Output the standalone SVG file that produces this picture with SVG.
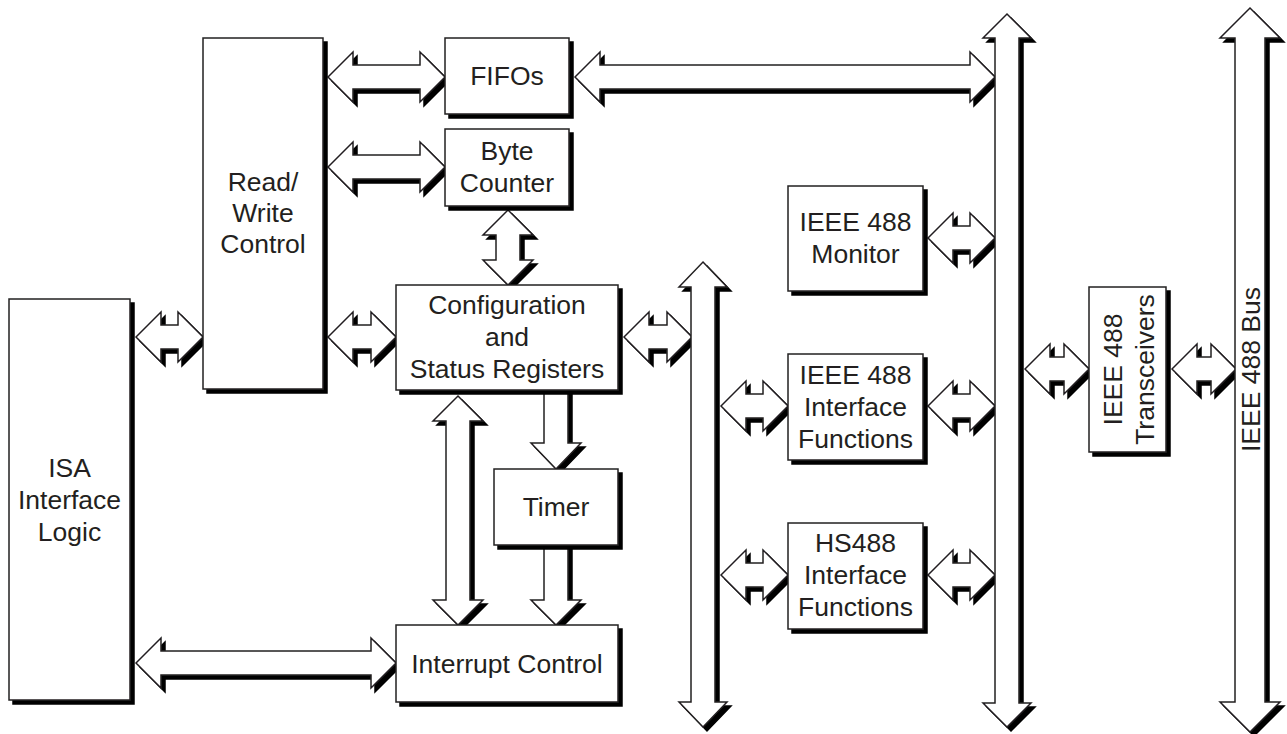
<svg xmlns="http://www.w3.org/2000/svg" width="1287" height="734" viewBox="0 0 1287 734">
<style>
.bx{fill:#fff;stroke:#231f20;stroke-width:1.5;filter:url(#sh)}
.ar{fill:#fff;stroke:#231f20;stroke-width:1.5;stroke-linejoin:miter;filter:url(#sh)}
.t{font-family:"Liberation Sans",Arial,Helvetica,sans-serif;font-size:26.5px;fill:#231f20;text-anchor:middle}
</style>
<defs>
<filter id="sh" x="-20%" y="-20%" width="140%" height="140%">
<feOffset in="SourceAlpha" dx="4" dy="4" result="o"/>
<feMerge><feMergeNode in="o"/><feMergeNode in="SourceGraphic"/></feMerge>
</filter>
</defs>
<rect width="1287" height="734" fill="#fff"/>
<g id="connectors">
<path class="ar" d="M328 77 L353 52 V65 H420 V52 L445 77 L420 102 V89 H353 V102 Z"/>
<path class="ar" d="M328 167 L353 142 V155 H420 V142 L445 167 L420 192 V179 H353 V192 Z"/>
<path class="ar" d="M575 77 L600 52 V65 H970 V52 L995 77 L970 102 V89 H600 V102 Z"/>
<path class="ar" d="M508 210 L533 235 H520 V260 H533 L508 285 L483 260 H496 V235 H483 Z"/>
<path class="ar" d="M136 337 L161 312 V325 H178 V312 L203 337 L178 362 V349 H161 V362 Z"/>
<path class="ar" d="M328 337 L353 312 V325 H371 V312 L396 337 L371 362 V349 H353 V362 Z"/>
<path class="ar" d="M624 337 L649 312 V325 H667 V312 L692 337 L667 362 V349 H649 V362 Z"/>
<path class="ar" d="M458 396 L483 421 H470 V600 H483 L458 625 L433 600 H446 V421 H433 Z"/>
<path class="ar" d="M544 388 H568 V443 H581 L556 469 L531 443 H544 Z"/>
<path class="ar" d="M544 545 H568 V600 H581 L556 625 L531 600 H544 Z"/>
<path class="ar" d="M136 663 L161 638 V651 H371 V638 L396 663 L371 688 V675 H161 V688 Z"/>
<path class="ar" d="M721 406 L746 381 V394 H763 V381 L788 406 L763 431 V418 H746 V431 Z"/>
<path class="ar" d="M721 575 L746 550 V563 H763 V550 L788 575 L763 600 V587 H746 V600 Z"/>
<path class="ar" d="M928 238 L953 213 V226 H970 V213 L995 238 L970 263 V250 H953 V263 Z"/>
<path class="ar" d="M928 406 L953 381 V394 H970 V381 L995 406 L970 431 V418 H953 V431 Z"/>
<path class="ar" d="M928 575 L953 550 V563 H970 V550 L995 575 L970 600 V587 H953 V600 Z"/>
<path class="ar" d="M1025 369 L1050 344 V357 H1064 V344 L1089 369 L1064 394 V381 H1050 V394 Z"/>
<path class="ar" d="M1172 369 L1197 344 V357 H1211 V344 L1236 369 L1211 394 V381 H1197 V394 Z"/>
</g>
<g id="nodes">
<g id="bus-internal"><path class="ar" d="M703 262 L727 287 H715 V702 H727 L703 727 L679 702 H691 V287 H679 Z"/></g>
<g id="bus-local"><path class="ar" d="M1007 14 L1031 38 H1019 V703 H1031 L1007 727 L983 703 H995 V38 H983 Z"/></g>
<g id="ieee488-bus"><path class="ar" d="M1250 8 L1280 38 H1265 V702 H1280 L1250 732 L1220 702 H1235 V38 H1220 Z"/>
<text class="t" transform="translate(1260 369.5) rotate(-90)">IEEE 488 Bus</text></g>
<g id="isa"><rect class="bx" x="9" y="299" width="121" height="401"/>
<text class="t" x="69.5" y="477">ISA</text><text class="t" x="69.5" y="509">Interface</text><text class="t" x="69.5" y="541">Logic</text></g>
<g id="rw"><rect class="bx" x="203" y="38" width="120" height="351"/>
<text class="t" x="263" y="191">Read/</text><text class="t" x="263" y="222">Write</text><text class="t" x="263" y="253">Control</text></g>
<g id="fifos"><rect class="bx" x="445" y="38" width="124" height="76"/>
<text class="t" x="507" y="85">FIFOs</text></g>
<g id="bytecounter"><rect class="bx" x="445" y="129" width="124" height="77"/>
<text class="t" x="507" y="160">Byte</text><text class="t" x="507" y="192">Counter</text></g>
<g id="config"><rect class="bx" x="396" y="285" width="222" height="105"/>
<text class="t" x="507" y="314">Configuration</text><text class="t" x="507" y="346">and</text><text class="t" x="507" y="378">Status Registers</text></g>
<g id="timer"><rect class="bx" x="494" y="469" width="124" height="76"/>
<text class="t" x="556" y="516">Timer</text></g>
<g id="interrupt"><rect class="bx" x="396" y="625" width="222" height="77"/>
<text class="t" x="507" y="673">Interrupt Control</text></g>
<g id="monitor"><rect class="bx" x="788" y="186" width="135" height="105"/>
<text class="t" x="855.5" y="231">IEEE 488</text><text class="t" x="855.5" y="263">Monitor</text></g>
<g id="ieee-if"><rect class="bx" x="788" y="354" width="135" height="106"/>
<text class="t" x="855.5" y="384">IEEE 488</text><text class="t" x="855.5" y="416">Interface</text><text class="t" x="855.5" y="448">Functions</text></g>
<g id="hs488-if"><rect class="bx" x="788" y="523" width="135" height="106"/>
<text class="t" x="855.5" y="552">HS488</text><text class="t" x="855.5" y="584">Interface</text><text class="t" x="855.5" y="616">Functions</text></g>
<g id="transceivers"><rect class="bx" x="1089" y="287" width="77" height="165"/>
<text class="t" transform="translate(1122 369.5) rotate(-90)">IEEE 488</text>
<text class="t" transform="translate(1154 369.5) rotate(-90)">Transceivers</text></g>
</g>
</svg>
